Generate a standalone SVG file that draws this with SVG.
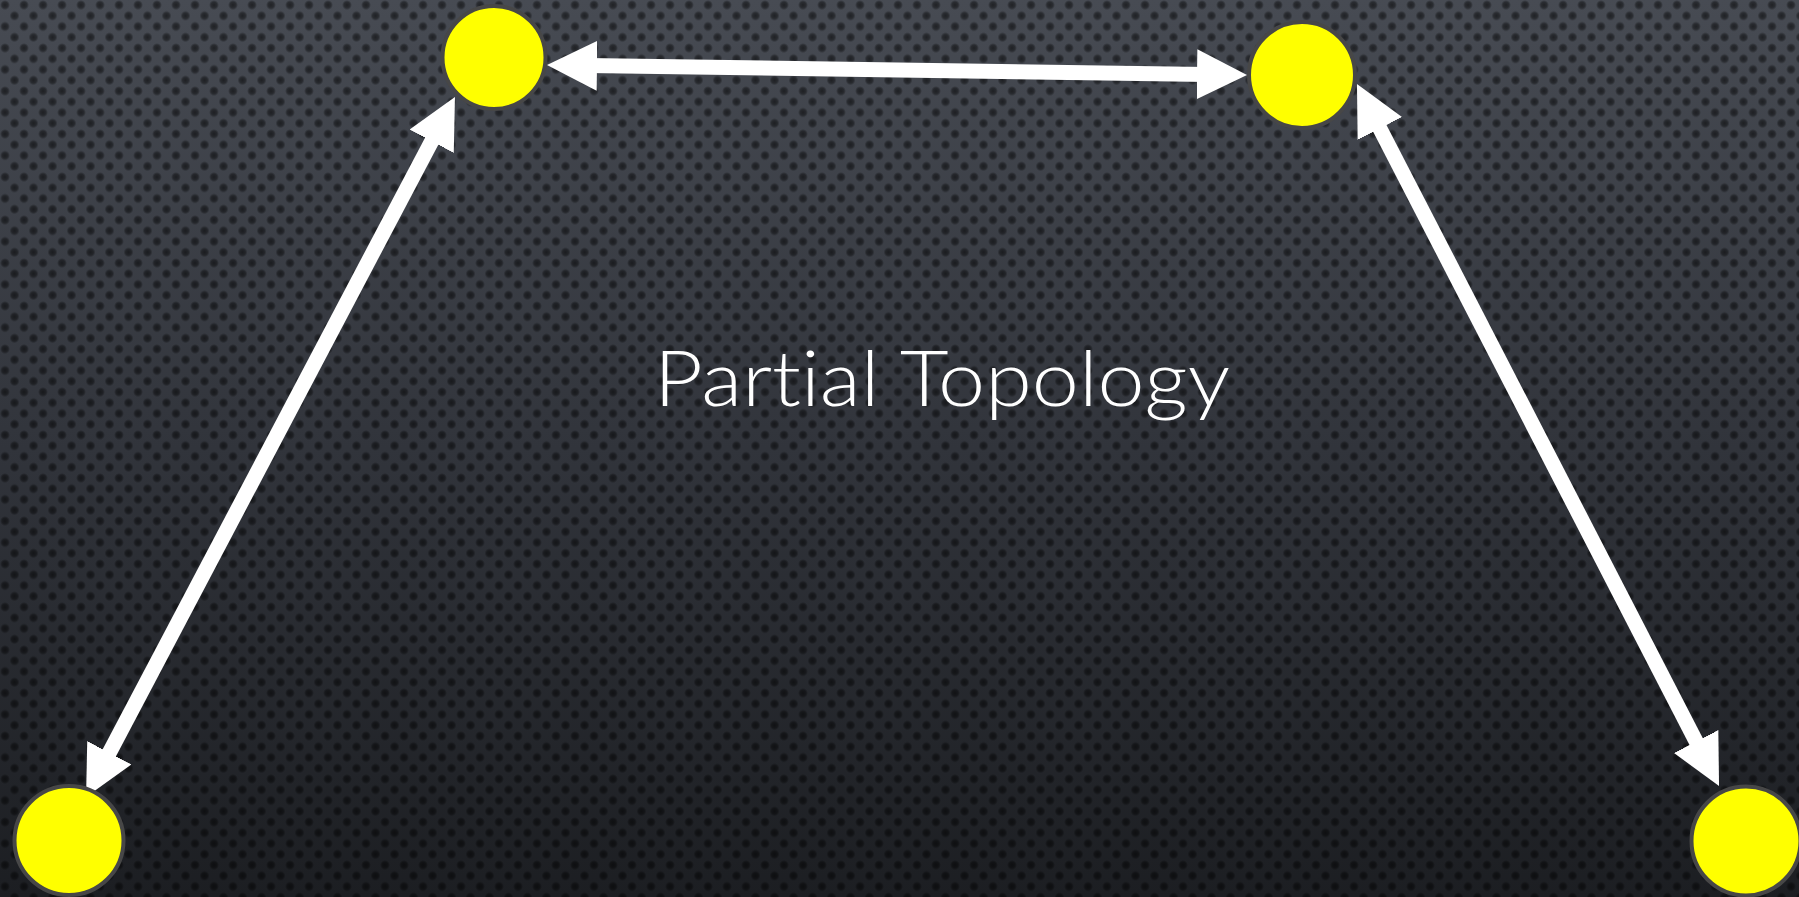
<svg xmlns="http://www.w3.org/2000/svg" width="1799" height="897" viewBox="0 0 1799 897">
<style>
.node{fill:#ffff00;stroke:#474747;stroke-width:4}
.conn{stroke:#ffffff;stroke-width:15;fill:none;marker-start:url(#head);marker-end:url(#head)}
.title{font-family:Lato,"Open Sans","Liberation Sans",sans-serif;font-weight:300;font-size:76px;fill:#ffffff;font-variant-ligatures:none;font-feature-settings:"liga" 0,"clig" 0}
</style>
<defs>
<linearGradient id="bg" x1="0" y1="0" x2="0" y2="1">
<stop offset="0" stop-color="#474b53"/>
<stop offset="0.5" stop-color="#31343b"/>
<stop offset="1" stop-color="#1c1e22"/>
</linearGradient>
<radialGradient id="dot">
<stop offset="0" stop-color="#000" stop-opacity="0.55"/>
<stop offset="0.6" stop-color="#000" stop-opacity="0.4"/>
<stop offset="1" stop-color="#000" stop-opacity="0"/>
</radialGradient>
<pattern id="perf" width="19" height="21.5" patternUnits="userSpaceOnUse">
<circle cx="5" cy="5" r="5" fill="url(#dot)"/>
<circle cx="14.5" cy="15.75" r="5" fill="url(#dot)"/>
</pattern>
<marker id="head" markerUnits="userSpaceOnUse" viewBox="0 0 50 50" markerWidth="50" markerHeight="50" refX="10" refY="25" orient="auto-start-reverse">
<path d="M0,0 L50,25 L0,50 z" fill="#ffffff"/>
</marker>
</defs>
<rect width="1799" height="897" fill="url(#bg)"/>
<rect width="1799" height="897" fill="url(#perf)"/>
<g id="connectors">
<line class="conn" x1="587" y1="65.6" x2="1207" y2="74.4"/>
<line class="conn" x1="436.3" y1="132.4" x2="104.7" y2="761.6"/>
<line class="conn" x1="1375.3" y1="119.6" x2="1700.7" y2="750.4"/>
</g>
<g id="node-top-left"><circle class="node" cx="494" cy="57.5" r="51.5"/></g>
<g id="node-top-right"><circle class="node" cx="1302" cy="75" r="53"/></g>
<g id="node-bottom-left"><circle class="node" cx="69" cy="840.5" r="54.5"/></g>
<g id="node-bottom-right"><circle class="node" cx="1746" cy="841" r="54.5"/></g>
<g id="label"><text class="title" x="654" y="406" textLength="576" lengthAdjust="spacingAndGlyphs">Partial Topology</text></g>
</svg>
